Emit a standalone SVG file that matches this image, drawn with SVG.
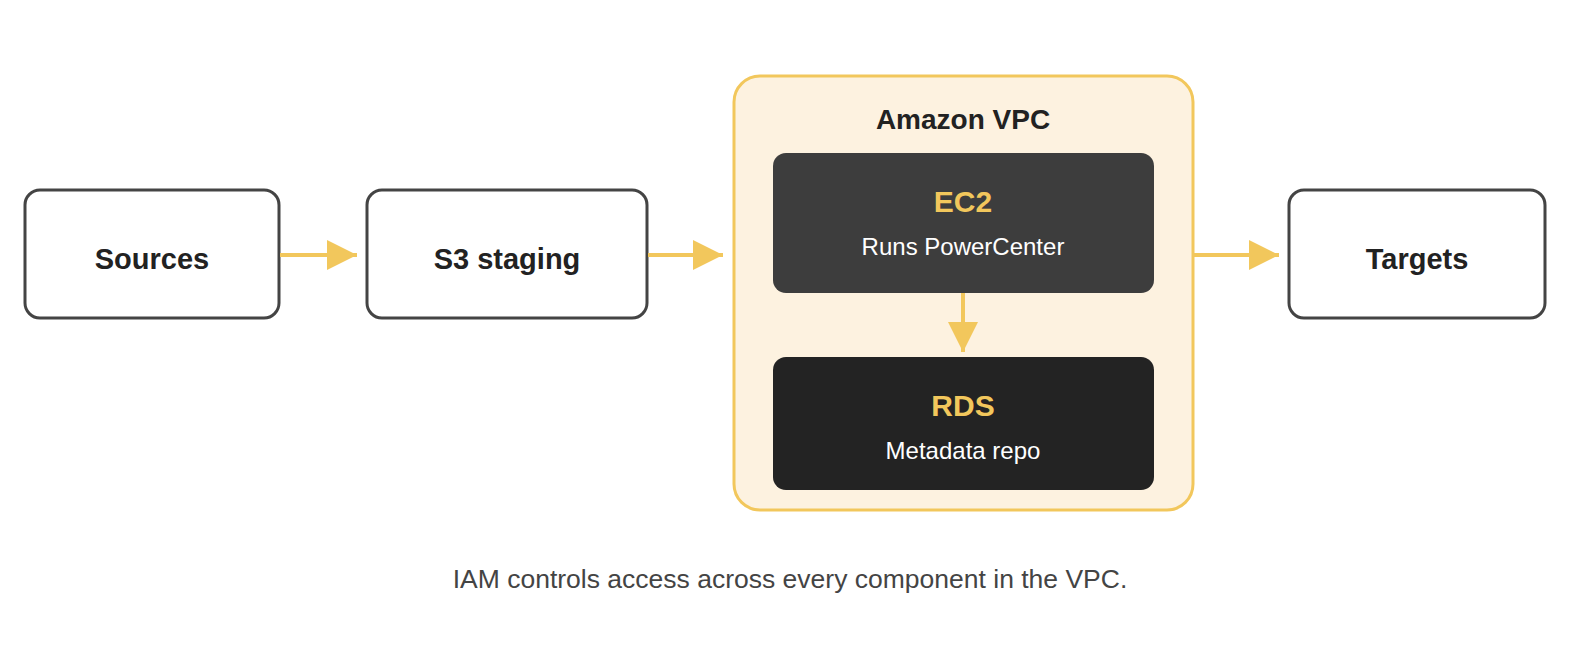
<svg xmlns="http://www.w3.org/2000/svg" width="1580" height="663" viewBox="0 0 1580 663">
<defs>
<style>
.node{fill:#ffffff;stroke:#444444;stroke-width:3}
.lbl{font-family:"Liberation Sans",Arial,sans-serif;font-weight:bold;font-size:29px;fill:#222222;text-anchor:middle;dominant-baseline:central}
.vt{font-family:"Liberation Sans",Arial,sans-serif;font-weight:bold;font-size:28px;fill:#222222;text-anchor:middle;dominant-baseline:central}
.ttl{font-family:"Liberation Sans",Arial,sans-serif;font-weight:bold;font-size:30px;fill:#F2C75C;text-anchor:middle;dominant-baseline:central}
.sub{font-family:"Liberation Sans",Arial,sans-serif;font-size:24px;fill:#ffffff;text-anchor:middle;dominant-baseline:central}
.cap{font-family:"Liberation Sans",Arial,sans-serif;font-size:26.5px;fill:#444444;text-anchor:middle;dominant-baseline:central}
.edge{stroke:#F2C75C;stroke-width:4;fill:none}
</style>
<marker id="ah" markerWidth="30" markerHeight="30" viewBox="0 0 30 30" refX="30" refY="15" markerUnits="userSpaceOnUse" orient="auto">
<path d="M0,0 L30,15 L0,30 Z" fill="#F2C75C"/>
</marker>
</defs>
<rect width="1580" height="663" fill="#ffffff"/>
<g id="vpc">
<rect x="734" y="76" width="459" height="434" rx="26" fill="#FDF2E0" stroke="#F2C75C" stroke-width="3"/>
<text class="vt" x="963" y="119">Amazon VPC</text>
</g>
<g id="sources">
<rect class="node" x="25" y="190" width="254" height="128" rx="15"/>
<text class="lbl" x="152" y="259">Sources</text>
</g>
<g id="s3">
<rect class="node" x="367" y="190" width="280" height="128" rx="15"/>
<text class="lbl" x="507" y="259">S3 staging</text>
</g>
<g id="ec2">
<rect x="773" y="153" width="381" height="140" rx="13" fill="#3D3D3D"/>
<text class="ttl" x="963" y="201">EC2</text>
<text class="sub" x="963" y="246">Runs PowerCenter</text>
</g>
<g id="rds">
<rect x="773" y="357" width="381" height="133" rx="13" fill="#232323"/>
<text class="ttl" x="963" y="405">RDS</text>
<text class="sub" x="963" y="450">Metadata repo</text>
</g>
<g id="targets">
<rect class="node" x="1289" y="190" width="256" height="128" rx="15"/>
<text class="lbl" x="1417" y="259">Targets</text>
</g>
<g id="connectors">
<line class="edge" x1="280" y1="255" x2="357" y2="255" marker-end="url(#ah)"/>
<line class="edge" x1="648" y1="255" x2="723" y2="255" marker-end="url(#ah)"/>
<line class="edge" x1="1194" y1="255" x2="1279" y2="255" marker-end="url(#ah)"/>
<line class="edge" x1="963" y1="293" x2="963" y2="352" marker-end="url(#ah)"/>
</g>
<text class="cap" x="790" y="579">IAM controls access across every component in the VPC.</text>
</svg>
